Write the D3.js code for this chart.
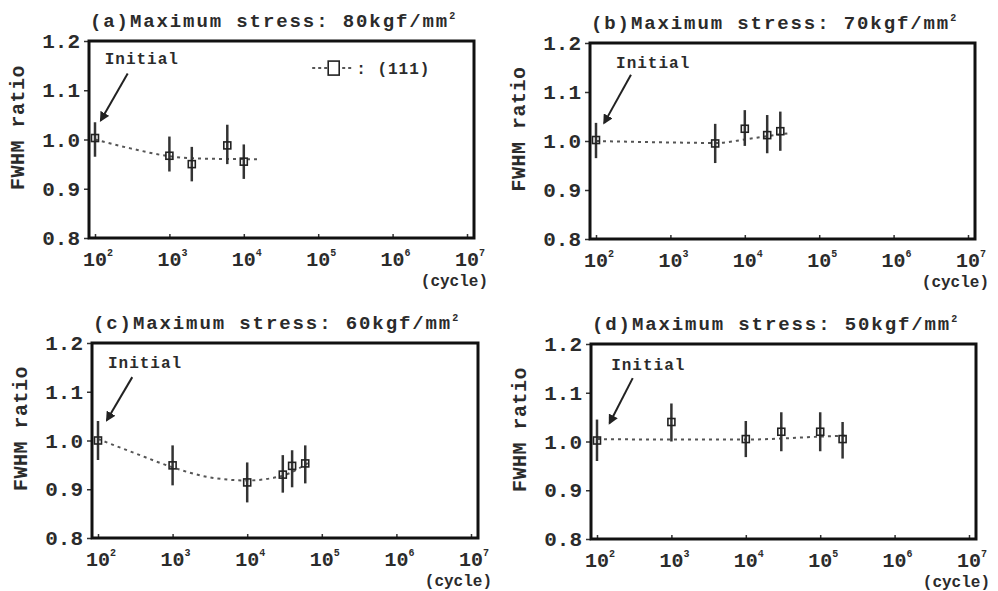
<!DOCTYPE html>
<html>
<head>
<meta charset="utf-8">
<script src="https://cdn.jsdelivr.net/npm/d3@7"></script>
<style>
  body { margin: 0; background: #fff; }
  text { font-family: "Liberation Mono", "DejaVu Sans Mono", monospace; fill: #2b2b2b; font-weight: bold; }
</style>
</head>
<body>
<svg id="svg" width="998" height="591"></svg>
<script>
// values
const titles = ["(a)Maximum stress: 80kgf/mm", "(b)Maximum stress: 70kgf/mm",
                "(c)Maximum stress: 60kgf/mm", "(d)Maximum stress: 50kgf/mm"];
const yTicks = [0.8, 0.9, 1.0, 1.1, 1.2];
const xExponents = [2, 3, 4, 5, 6, 7];

const cycA = [1e2, 1e3, 2e3, 6e3, 1e4];
const ratA = [1.003, 0.967, 0.950, 0.988, 0.955];
const loA  = [0.965, 0.935, 0.915, 0.950, 0.920];
const hiA  = [1.035, 1.006, 0.985, 1.030, 0.990];
const fitCycA = [1e2, 3e2, 1e3, 3e3, 1.6e4];
const fitRatA = [1.000, 0.982, 0.966, 0.961, 0.960];

const cycB = [1e2, 4e3, 1e4, 2e4, 3e4];
const ratB = [1.002, 0.995, 1.025, 1.012, 1.020];
const loB  = [0.965, 0.955, 0.990, 0.975, 0.980];
const hiB  = [1.037, 1.035, 1.063, 1.053, 1.060];
const fitCycB = [1e2, 1e3, 4e3, 1e4, 2e4, 4e4];
const fitRatB = [1.000, 0.997, 0.996, 1.003, 1.010, 1.016];

const cycC = [1e2, 1e3, 1e4, 3e4, 4e4, 6e4];
const ratC = [1.000, 0.949, 0.914, 0.930, 0.948, 0.953];
const loC  = [0.960, 0.908, 0.873, 0.893, 0.904, 0.912];
const hiC  = [1.040, 0.990, 0.955, 0.970, 0.980, 0.990];
const fitCycC = [1e2, 3e2, 1e3, 3e3, 1e4, 3e4, 7e4];
const fitRatC = [1.003, 0.975, 0.945, 0.925, 0.918, 0.928, 0.957];

const cycD = [1e2, 1e3, 1e4, 3e4, 1e5, 2e5];
const ratD = [1.002, 1.040, 1.005, 1.020, 1.020, 1.005];
const loD  = [0.960, 1.000, 0.968, 0.980, 0.980, 0.965];
const hiD  = [1.045, 1.078, 1.042, 1.060, 1.060, 1.040];
const fitCycD = [1e2, 1e3, 1e4, 1e5, 2.2e5];
const fitRatD = [1.005, 1.004, 1.004, 1.010, 1.012];

// "Initial" note: label anchor and arrow ends in (cycle, ratio)
const initLabel = [[135, 1.153], [186, 1.148], [136, 1.149], [155, 1.147]];
const arrowFrom = [[275, 1.134], [295, 1.135], [288, 1.130], [302, 1.130]];
const arrowTo   = [[120, 1.039], [129, 1.037], [132, 1.042], [148, 1.038]];

// panel frames (pixels)
const boxes = [
  {x: 89,  y: 41,  w: 385, h: 197},
  {x: 590, y: 43,  w: 385, h: 196},
  {x: 92,  y: 343, w: 386, h: 195},
  {x: 591, y: 344, w: 385, h: 195}
];

const sup = {2: "2", 3: "3", 4: "4", 5: "5", 6: "6", 7: "7"};

const panels = [
  {cyc: cycA, rat: ratA, lo: loA, hi: hiA, fc: fitCycA, fr: fitRatA},
  {cyc: cycB, rat: ratB, lo: loB, hi: hiB, fc: fitCycB, fr: fitRatB},
  {cyc: cycC, rat: ratC, lo: loC, hi: hiC, fc: fitCycC, fr: fitRatC},
  {cyc: cycD, rat: ratD, lo: loD, hi: hiD, fc: fitCycD, fr: fitRatD}
];

var svg = d3.select("#svg");

svg.append("defs").append("marker")
    .attr("id", "head")
    .attr("viewBox", "0 0 10 10")
    .attr("refX", 8).attr("refY", 5)
    .attr("markerWidth", 5).attr("markerHeight", 5)
    .attr("orient", "auto")
  .append("path")
    .attr("d", "M0,0L10,5L0,10z")
    .attr("fill", "#222");

panels.forEach(function(p, i) {
    var b = boxes[i];
    var x = d3.scaleLog().domain([1e2, 1e7]).range([b.x + 6, b.x + b.w - 7]);
    var y = d3.scaleLinear().domain([0.8, 1.2]).range([b.y + b.h, b.y]);

    var g = svg.append("g");

    // title
    var t = g.append("text")
        .attr("x", b.x + 1)
        .attr("y", b.y - 14)
        .style("font-size", "19px")
        .style("letter-spacing", "1.9px")
        .text(titles[i]);
    t.append("tspan").attr("dy", -8).style("font-size", "10px").text("2");

    // y axis ticks + labels
    var yAxis = d3.axisLeft(y).tickValues(yTicks).tickSize(5).tickFormat(d3.format(".1f"));
    var ya = g.append("g").attr("transform", "translate(" + b.x + ",0)").call(yAxis);
    ya.select(".domain").remove();
    ya.selectAll("line").attr("stroke", "#333").attr("stroke-width", 1.5);
    ya.selectAll("text")
        .attr("x", -9)
        .style("font-size", "21px")
        .style("font-family", "\"Liberation Mono\", monospace")
        .attr("fill", "#2b2b2b");

    // x axis: small inward ticks and 10^n labels
    var xAxis = d3.axisBottom(x).tickValues(xExponents.map(e => Math.pow(10, e))).tickSize(-4).tickFormat("");
    var xa = g.append("g").attr("transform", "translate(0," + (b.y + b.h) + ")").call(xAxis);
    xa.select(".domain").remove();
    xa.selectAll("line").attr("stroke", "#333").attr("stroke-width", 1.5);

    xExponents.forEach(function(e) {
        var lab = g.append("text")
            .attr("x", x(Math.pow(10, e)) - 12)
            .attr("y", b.y + b.h + 28)
            .style("font-size", "20px")
            .text("10");
        lab.append("tspan").attr("dy", -10).style("font-size", "10px").text(sup[e]);
    });

    g.append("text")
        .attr("x", b.x + b.w + 14)
        .attr("y", b.y + b.h + 48)
        .attr("text-anchor", "end")
        .style("font-size", "16px")
        .text("(cycle)");

    // y label
    g.append("text")
        .attr("transform", "translate(" + (b.x - 65) + "," + (b.y + b.h / 2 - 12) + ") rotate(-90)")
        .attr("text-anchor", "middle")
        .style("font-size", "20px")
        .style("letter-spacing", "0.5px")
        .text("FWHM ratio");

    // fit curve
    var line = d3.line()
        .x(d => x(d[0]))
        .y(d => y(d[1]))
        .curve(d3.curveMonotoneX);
    g.append("path")
        .datum(d3.zip(p.fc, p.fr))
        .attr("d", line)
        .attr("fill", "none")
        .attr("stroke", "#555")
        .attr("stroke-width", 2)
        .style("stroke-dasharray", "3, 4");

    // error bars
    var pts = d3.zip(p.cyc, p.rat, p.lo, p.hi);
    g.selectAll(".err").data(pts).enter().append("line")
        .attr("x1", d => x(d[0])).attr("x2", d => x(d[0]))
        .attr("y1", d => y(d[2])).attr("y2", d => y(d[3]))
        .attr("stroke", "#333")
        .attr("stroke-width", 2.5);

    // square markers
    g.selectAll(".pt").data(pts).enter().append("rect")
        .attr("x", d => x(d[0]) - 3.5)
        .attr("y", d => y(d[1]) - 3.5)
        .attr("width", 7).attr("height", 7)
        .attr("fill", "none")
        .attr("stroke", "#222")
        .attr("stroke-width", 1.6);

    // "Initial" note
    g.append("text")
        .attr("x", x(initLabel[i][0]))
        .attr("y", y(initLabel[i][1]))
        .style("font-size", "16px")
        .style("letter-spacing", "1px")
        .text("Initial");
    g.append("line")
        .attr("x1", x(arrowFrom[i][0])).attr("y1", y(arrowFrom[i][1]))
        .attr("x2", x(arrowTo[i][0])).attr("y2", y(arrowTo[i][1]))
        .attr("stroke", "#222")
        .attr("stroke-width", 2)
        .attr("marker-end", "url(#head)");

    // frame
    g.append("rect")
        .attr("x", b.x).attr("y", b.y)
        .attr("width", b.w).attr("height", b.h)
        .attr("fill", "none")
        .attr("stroke", "#111")
        .attr("stroke-width", 3);

    // legend, first panel only
    if (i === 0) {
        var lx = x(1e5) - 6, ly = y(1.145);
        g.append("line")
            .attr("x1", lx).attr("x2", lx + 42)
            .attr("y1", ly).attr("y2", ly)
            .attr("stroke", "#555").attr("stroke-width", 2)
            .style("stroke-dasharray", "3, 3");
        g.append("rect")
            .attr("x", lx + 16).attr("y", ly - 7)
            .attr("width", 11).attr("height", 14)
            .attr("fill", "#fff")
            .attr("stroke", "#222").attr("stroke-width", 1.6);
        g.append("text")
            .attr("x", lx + 44).attr("y", ly + 6)
            .style("font-size", "16px")
            .style("letter-spacing", "1px")
            .text(": (111)");
    }
});
</script>
</body>
</html>
